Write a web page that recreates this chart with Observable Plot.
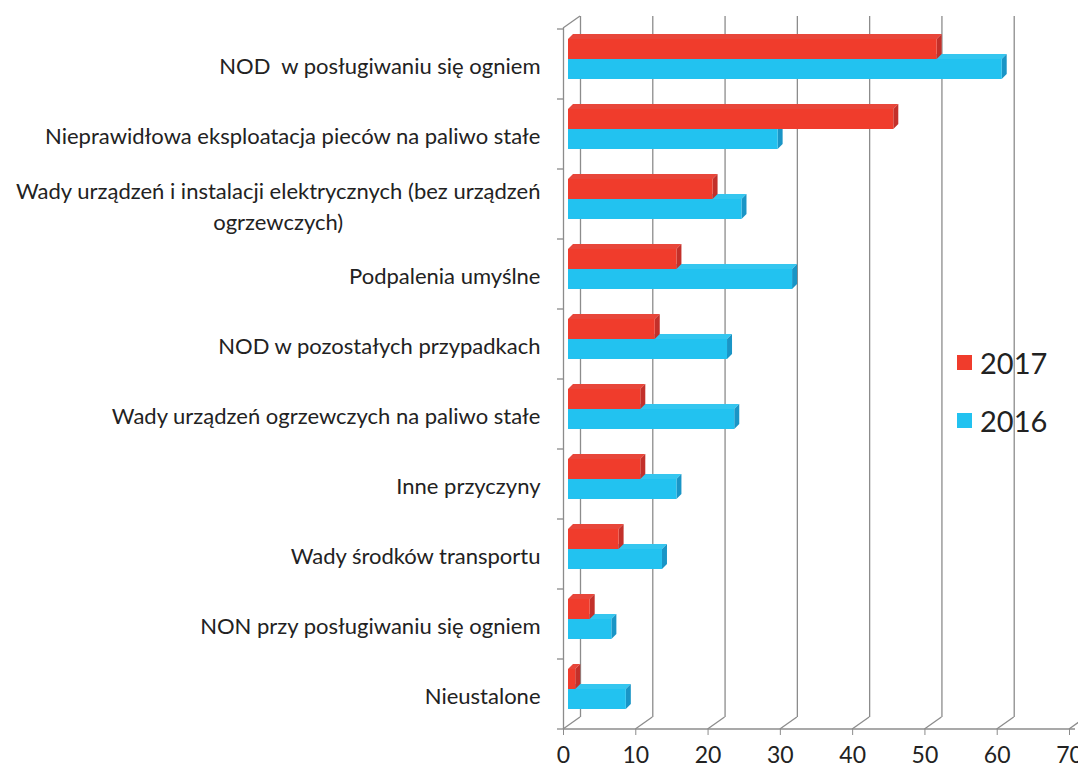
<!DOCTYPE html>
<html>
<head>
<meta charset="utf-8">
<script src="https://cdn.jsdelivr.net/npm/d3@7"></script>
<script src="https://cdn.jsdelivr.net/npm/@observablehq/plot@0.6"></script>
<style>
  html, body { margin: 0; padding: 0; background: #fff; }
  #wrap { position: relative; width: 1078px; height: 772px; font-family: Lato, "Open Sans", sans-serif; }
  #legend { position: absolute; left: 957px; top: 342px; font-size: 29px; color: #222; }
  #legend .item { display: flex; align-items: center; height: 40px; margin-bottom: 18px; }
  #legend .sw { width: 15px; height: 15px; margin-right: 8px; }
</style>
</head>
<body>
<div id="wrap"><div id="legend"></div></div>
<script>
const categories = [
  "NOD  w posługiwaniu się ogniem",
  "Nieprawidłowa eksploatacja pieców na paliwo stałe",
  "Wady urządzeń i instalacji elektrycznych (bez urządzeń\nogrzewczych)",
  "Podpalenia umyślne",
  "NOD w pozostałych przypadkach",
  "Wady urządzeń ogrzewczych na paliwo stałe",
  "Inne przyczyny",
  "Wady środków transportu",
  "NON przy posługiwaniu się ogniem",
  "Nieustalone"
];
const values2017 = [51, 45, 20, 15, 12, 10, 10, 7, 3, 1];
const values2016 = [60, 29, 24, 31, 22, 23, 15, 13, 6, 8];
const years = ["2017", "2016"];
const xTicks = [0, 10, 20, 30, 40, 50, 60, 70];

const colors = {"2017": "#f03c2c", "2016": "#22c2f0"};
const topColors = {"2017": "#e8463a", "2016": "#35c6ef"};
const sideColors = {"2017": "#c3302a", "2016": "#1a95c6"};

const rows2017 = categories.map((c, i) => ({category: c, year: "2017", value: values2017[i]}));
const rows2016 = categories.map((c, i) => ({category: c, year: "2016", value: values2016[i]}));

const D = {dx: 5, dy: -5};     // bar depth
const W = {dx: 17, dy: -12};   // wall depth
const gridColor = "#8c8c8c";

const plot = Plot.plot({
  width: 1078,
  height: 772,
  marginLeft: 563,
  marginRight: 9,
  marginTop: 28,
  marginBottom: 43,
  style: {fontFamily: "Lato, 'Open Sans', sans-serif", background: "white", color: "#222"},
  x: {domain: [0, 70]},
  y: {domain: categories, paddingInner: 0.43, paddingOuter: 0.215},
  marks: [
    Plot.ruleX(xTicks, {dx: W.dx, dy: W.dy, stroke: gridColor, strokeWidth: 1.3}),
    Plot.ruleX([0], {stroke: gridColor, strokeWidth: 1.3}),
    Plot.axisX(xTicks, {anchor: "bottom", tickSize: 6, tickPadding: 11, fontSize: 23, stroke: gridColor, fill: "#222", label: null}),
    Plot.axisY({tickSize: 0, tickPadding: 23, fontSize: 22, fill: "#222", label: null, lineHeight: 1.4}),
    Plot.barX(rows2016, {y: "category", x: "value", fill: colors["2016"], insetTop: 20, dx: D.dx, dy: D.dy, className: "bar2016"}),
    Plot.barX(rows2017, {y: "category", x: "value", fill: colors["2017"], insetBottom: 20, dx: D.dx, dy: D.dy, className: "bar2017"})
  ]
});

document.getElementById("wrap").prepend(plot);

// 3D faces for the bars, derived from the rendered bar rects
const svg = d3.select(plot);
years.forEach(yr => {
  svg.selectAll(".bar" + yr + " rect").each(function() {
    const r = d3.select(this);
    const node = this;
    const x = +r.attr("x"), y = +r.attr("y"), w = +r.attr("width"), h = +r.attr("height");
    const topPts = [[x, y], [x + D.dx, y + D.dy], [x + w + D.dx, y + D.dy], [x + w, y]];
    const sidePts = [[x + w, y], [x + w + D.dx, y + D.dy], [x + w + D.dx, y + h + D.dy], [x + w, y + h]];
    const ins = (pts, col) => {
      const p = document.createElementNS("http://www.w3.org/2000/svg", "polygon");
      p.setAttribute("points", pts.map(d => d.join(",")).join(" "));
      p.setAttribute("fill", col);
      if (r.attr("transform")) p.setAttribute("transform", r.attr("transform"));
      node.parentNode.insertBefore(p, node);
    };
    ins(topPts, topColors[yr]);
    ins(sidePts, sideColors[yr]);
  });
});

// axis frame details using the plot's scales
const xs = plot.scale("x"), ys = plot.scale("y");
const x0 = xs.apply(0);
const yTop = ys.range[0], yBot = ys.range[1];
const g = svg.append("g").attr("stroke", gridColor).attr("stroke-width", 1.3).attr("fill", "none");
g.append("line").attr("x1", x0).attr("x2", xs.apply(70) + 6).attr("y1", yBot).attr("y2", yBot);
xTicks.forEach(v => {
  const xv = xs.apply(v);
  g.append("line").attr("x1", xv).attr("y1", yBot).attr("x2", xv + W.dx).attr("y2", yBot + W.dy);
});
g.append("line").attr("x1", x0).attr("y1", yTop).attr("x2", x0 + W.dx).attr("y2", yTop + W.dy);
const step = ys.step;
categories.forEach((c) => {
  const yb = ys.apply(c) - (step - ys.bandwidth) / 2;
  g.append("line").attr("x1", x0 - 6).attr("x2", x0).attr("y1", yb).attr("y2", yb);
});
g.append("line").attr("x1", x0 - 6).attr("x2", x0).attr("y1", yBot).attr("y2", yBot);

// center the wrapped label's lines
svg.selectAll("text").each(function() {
  const ts = this.querySelectorAll("tspan");
  if (ts.length === 2) {
    const len1 = ts[0].getComputedTextLength();
    this.setAttribute("text-anchor", "middle");
    ts.forEach(t => t.setAttribute("x", -len1 / 2));
  }
});

// legend
const legend = d3.select("#legend");
years.forEach(yr => {
  const it = legend.append("div").attr("class", "item");
  it.append("div").attr("class", "sw").style("background", colors[yr]);
  it.append("span").text(yr);
});
</script>
</body>
</html>
